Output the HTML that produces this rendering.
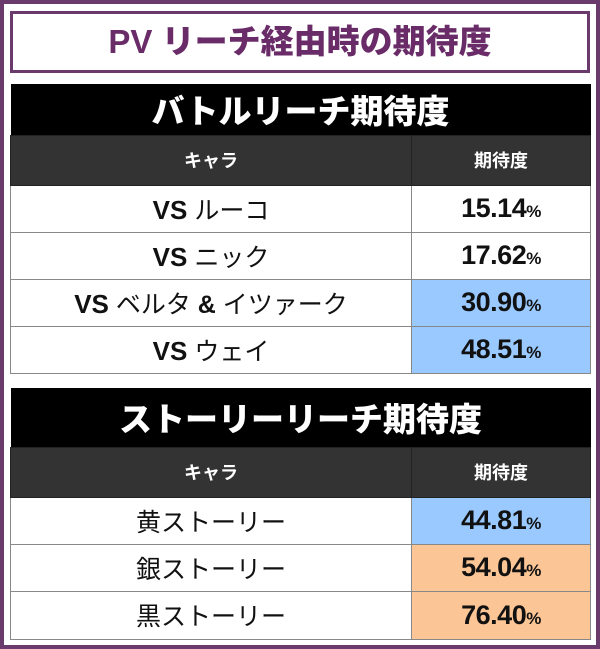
<!DOCTYPE html>
<html><head><meta charset="utf-8"><style>
*{margin:0;padding:0;box-sizing:border-box}
body{width:600px;height:649px;overflow:hidden;background:#fff;font-family:"Liberation Sans","Noto Sans CJK JP",sans-serif}
.outer{position:absolute;left:0;top:0;width:600px;height:649px;border:4px solid #6a3a6d;background:#fff}
.title{position:absolute;left:10px;top:11px;width:580px;height:62px;border:3px solid #6a3a6d;color:#6a2c68;font-weight:900;font-size:33px;text-align:center;line-height:55px}
table{position:absolute;left:10px;width:580px;border-collapse:collapse;table-layout:fixed}
td{border:1px solid #888;text-align:center;font-weight:bold;color:#111}
.big{background:#000;color:#fff;font-size:33px;font-weight:900;border:none}
.sub td{background:#333;color:#fff;font-size:18px;border-color:#222}
.row td{height:47px;font-size:25px}
.row td.v{font-size:27px;font-weight:900;letter-spacing:-0.5px}
.v small{font-size:17px}
.b{background:#99c9ff}.o{background:#fcc595}
</style></head><body>
<div class="outer"></div>
<div class="title">PV リーチ経由時の期待度</div>
<table style="top:84px">
<colgroup><col style="width:401px"><col style="width:179px"></colgroup>
<tr><td colspan="2" class="big" style="height:51px">バトルリーチ期待度</td></tr>
<tr class="sub"><td style="height:50px">キャラ</td><td>期待度</td></tr>
<tr class="row"><td><b style="font-size:26px">VS</b> <span style="font-weight:400">ルーコ</span></td><td class="v">15.14<small>%</small></td></tr>
<tr class="row"><td><b style="font-size:26px">VS</b> <span style="font-weight:400">ニック</span></td><td class="v">17.62<small>%</small></td></tr>
<tr class="row"><td><b style="font-size:26px">VS</b> <span style="font-weight:400">ベルタ</span> &amp; <span style="font-weight:400">イツァーク</span></td><td class="v b">30.90<small>%</small></td></tr>
<tr class="row"><td style="height:46px"><b style="font-size:26px">VS</b> <span style="font-weight:400">ウェイ</span></td><td class="v b">48.51<small>%</small></td></tr>
</table>
<table style="top:388px">
<colgroup><col style="width:401px"><col style="width:179px"></colgroup>
<tr><td colspan="2" class="big" style="height:59px">ストーリーリーチ期待度</td></tr>
<tr class="sub"><td style="height:50px">キャラ</td><td>期待度</td></tr>
<tr class="row"><td style="font-weight:400">黄ストーリー</td><td class="v b">44.81<small>%</small></td></tr>
<tr class="row"><td style="font-weight:400">銀ストーリー</td><td class="v o">54.04<small>%</small></td></tr>
<tr class="row"><td style="font-weight:400;height:48px">黒ストーリー</td><td class="v o">76.40<small>%</small></td></tr>
</table>
</body></html>
